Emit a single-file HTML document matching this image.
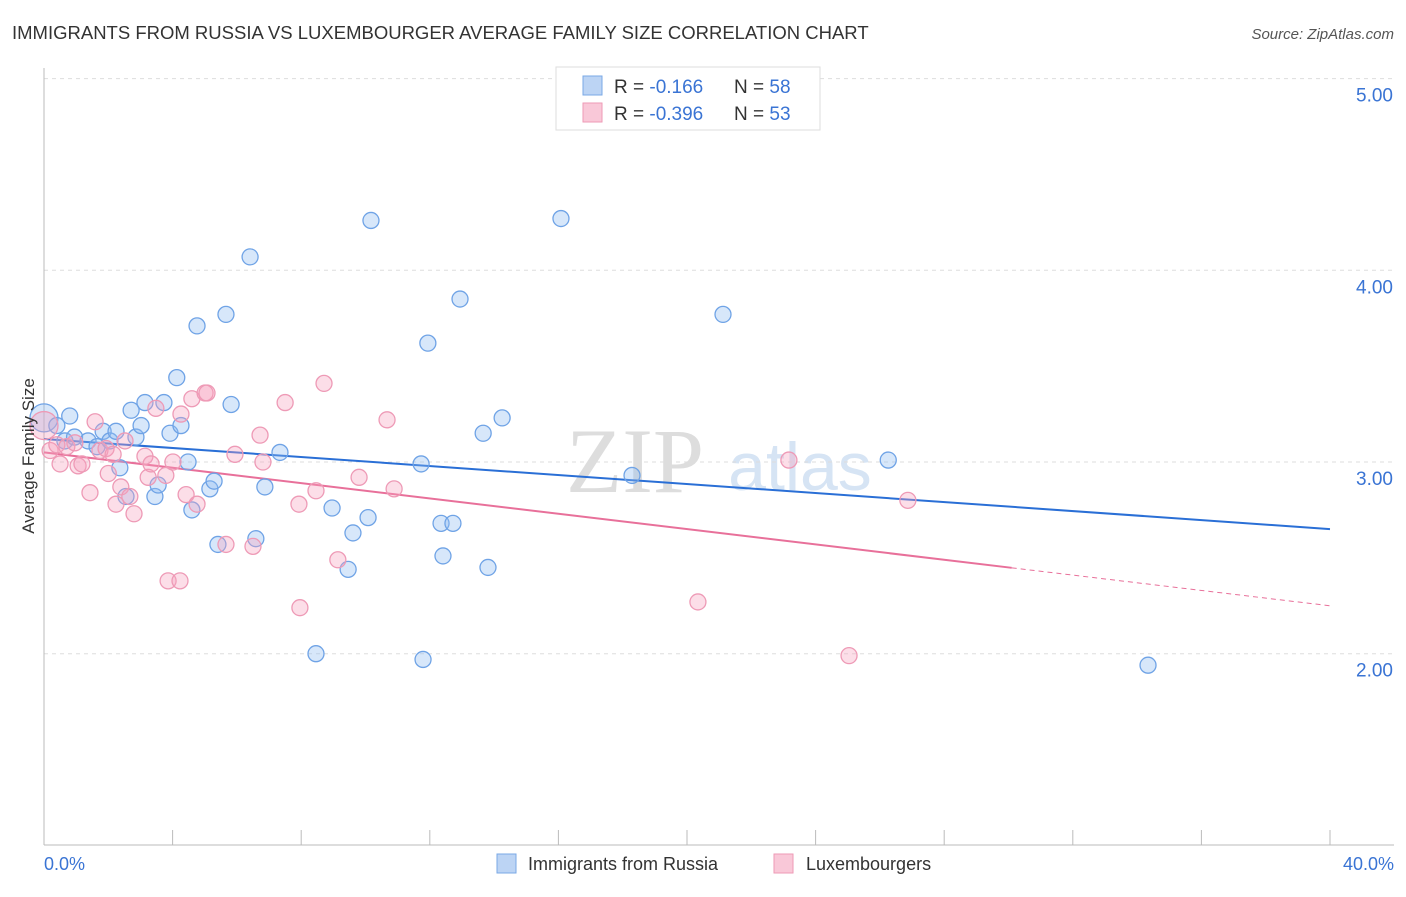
<!DOCTYPE html>
<html><head><meta charset="utf-8"><style>
body{margin:0;background:#fff;font-family:"Liberation Sans",sans-serif;}
svg text{font-family:"Liberation Sans",sans-serif;}
</style></head><body>
<svg id="chart" width="1406" height="892" viewBox="0 0 1406 892">
<text x="12" y="39" font-size="18.5" fill="#333">IMMIGRANTS FROM RUSSIA VS LUXEMBOURGER AVERAGE FAMILY SIZE CORRELATION CHART</text>
<text x="1394" y="39" font-size="15" fill="#555" text-anchor="end" font-style="italic">Source: ZipAtlas.com</text>
<text x="635" y="492" font-size="92" fill="#ddd" style="font-family:'Liberation Serif',serif" text-anchor="middle">ZIP</text>
<text x="800" y="490" font-size="68" fill="#d6e4f4" text-anchor="middle">atlas</text>
<g id="grid"></g><g id="axes"></g><g id="lines"></g><g id="pts"></g>
<text transform="translate(34,456) rotate(-90)" font-size="17" fill="#333" text-anchor="middle">Average Family Size</text>
<text x="44" y="870" font-size="18" fill="#3a74d4">0.0%</text>
<text x="1394" y="870" font-size="18" fill="#3a74d4" text-anchor="end">40.0%</text>
<g>
<rect x="556" y="67" width="264" height="63" fill="#fff" stroke="#ddd"/>
<rect x="583" y="76" width="19" height="19" fill="#bcd4f4" stroke="#7aa8e6"/>
<rect x="583" y="103" width="19" height="19" fill="#f9c8d8" stroke="#ee9ab6"/>
<text x="614" y="93" font-size="19" fill="#333">R = <tspan fill="#3a74d4">-0.166</tspan><tspan x="734">N = </tspan><tspan fill="#3a74d4">58</tspan></text>
<text x="614" y="120" font-size="19" fill="#333">R = <tspan fill="#3a74d4">-0.396</tspan><tspan x="734">N = </tspan><tspan fill="#3a74d4">53</tspan></text>
</g>
<g>
<rect x="497" y="854" width="19" height="19" fill="#bcd4f4" stroke="#7aa8e6"/>
<text x="528" y="870" font-size="18" fill="#333">Immigrants from Russia</text>
<rect x="774" y="854" width="19" height="19" fill="#f9c8d8" stroke="#ee9ab6"/>
<text x="806" y="870" font-size="18" fill="#333">Luxembourgers</text>
</g>
</svg>
<script>
const yTicks=[2,3,4,5];
const yTickLabels=["2.00","3.00","4.00","5.00"];
const russiaX=[0,0.4,0.8,0.65,0.95,1.37,1.65,1.84,2.05,2.24,2.36,2.55,2.71,2.86,3.02,3.14,3.45,3.55,3.73,3.92,4.13,4.26,4.48,4.6,4.76,5.16,5.29,5.41,5.66,5.82,6.41,6.59,6.87,7.34,8.46,8.96,9.46,9.61,10.08,10.17,11.73,11.79,11.94,12.35,12.41,12.72,12.94,13.81,13.66,14.25,16.08,18.29,21.12,26.26,34.34];
const russiaY=[3.23,3.19,3.24,3.11,3.13,3.11,3.08,3.16,3.11,3.16,2.97,2.82,3.27,3.13,3.19,3.31,2.82,2.88,3.31,3.15,3.44,3.19,3.0,2.75,3.71,2.86,2.9,2.57,3.77,3.3,4.07,2.6,2.87,3.05,2.0,2.76,2.44,2.63,2.71,4.26,2.99,1.97,3.62,2.68,2.51,2.68,3.85,2.45,3.15,3.23,4.27,2.93,3.77,3.01,1.94];
const luxX=[0,0.19,0.4,0.5,0.71,0.96,1.06,1.18,1.43,1.59,1.74,1.93,2.0,2.15,2.24,2.39,2.52,2.67,2.8,3.14,3.24,3.33,3.48,3.79,3.86,4.01,4.23,4.26,4.42,4.6,4.76,5.01,5.07,5.66,5.94,6.5,6.72,6.81,7.5,7.93,7.96,8.46,8.71,9.14,9.8,10.67,10.89,20.34,23.17,25.04,26.87];
const luxY=[3.19,3.06,3.09,2.99,3.08,3.1,2.98,2.99,2.84,3.21,3.06,3.07,2.94,3.04,2.78,2.87,3.11,2.82,2.73,3.03,2.92,2.99,3.28,2.93,2.38,3.0,2.38,3.25,2.83,3.33,2.78,3.36,3.36,2.57,3.04,2.56,3.14,3.0,3.31,2.78,2.24,2.85,3.41,2.49,2.92,3.22,2.86,2.27,3.01,1.99,2.8];
const russiaFit=[3.12,2.65];
const luxFit=[3.05,2.25];
const luxSolidEnd=30.1;
const xPx=v=>44+v/40*1286;
const yPx=v=>462-(v-3)*191.7;
const NS="http://www.w3.org/2000/svg";
function mk(p,t,a){const e=document.createElementNS(NS,t);for(const k in a)e.setAttribute(k,a[k]);p.appendChild(e);return e;}
const grid=document.getElementById('grid');
yTicks.forEach((t,i)=>{
 const l=mk(grid,'line',{x1:44,x2:1394,y1:yPx(t),y2:yPx(t),stroke:'#ddd','stroke-dasharray':'4,4'});
 
 
 const tx=mk(grid,'text',{x:1393,y:yPx(t)+23,'font-size':19,fill:'#3a74d4','text-anchor':'end'});
 tx.textContent=yTickLabels[i];
 
 
});
const axes=document.getElementById('axes');
const ya=mk(axes,'line',{x1:44,x2:44,y1:68,y2:845,stroke:'#bbb'});


const xa=mk(axes,'line',{x1:44,x2:1394,y1:845,y2:845,stroke:'#bbb'});


for(let i=0;i<=10;i++){const t=mk(axes,'line',{x1:xPx(i*4),x2:xPx(i*4),y1:830,y2:845,stroke:'#bbb'});
 
 }
const pts=document.getElementById('pts');
function dots(xs,ys,fill,stroke,name){xs.forEach((x,i)=>{
 const c=mk(pts,'circle',{cx:xPx(x),cy:yPx(ys[i]),r:i==0?14:8,fill:fill,stroke:stroke,'stroke-width':1.3});
 
 });}
dots(russiaX,russiaY,'rgba(140,185,240,0.35)','#6fa3e6','russia-point');
dots(luxX,luxY,'rgba(245,160,190,0.35)','#ee9ab6','luxembourger-point');
const lines=document.getElementById('lines');
const lb=mk(lines,'line',{x1:xPx(0),y1:yPx(russiaFit[0]),x2:xPx(40),y2:yPx(russiaFit[1]),stroke:'#2a6fd6','stroke-width':2});


const ly=v=>luxFit[0]+(luxFit[1]-luxFit[0])*v/40;
const lp=mk(lines,'line',{x1:xPx(0),y1:yPx(luxFit[0]),x2:xPx(luxSolidEnd),y2:yPx(ly(luxSolidEnd)),stroke:'#e8709a','stroke-width':2});


const ld=mk(lines,'line',{x1:xPx(luxSolidEnd),y1:yPx(ly(luxSolidEnd)),x2:xPx(40),y2:yPx(luxFit[1]),stroke:'#e8709a','stroke-width':1,'stroke-dasharray':'5,4'});


</script>
</body></html>
